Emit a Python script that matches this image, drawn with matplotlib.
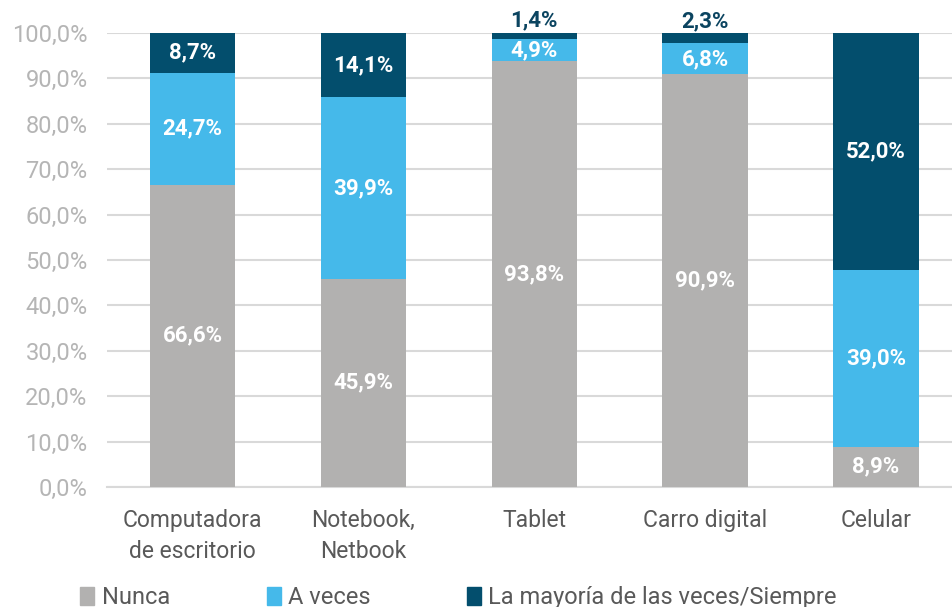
import matplotlib.pyplot as plt
from matplotlib.patches import Patch
from matplotlib.ticker import FuncFormatter

categories = ['Computadora\nde escritorio', 'Notebook,\nNetbook', 'Tablet', 'Carro digital', 'Celular']
nunca = [66.6, 45.9, 93.8, 90.9, 8.9]
a_veces = [24.7, 39.9, 4.9, 6.8, 39.0]
siempre = [8.7, 14.1, 1.4, 2.3, 52.0]
series_names = ['Nunca', 'A veces', 'La mayoría de las veces/Siempre']
colors = ['#b2b1b0', '#45b9ea', '#034e6d']

plt.rcParams['font.family'] = ['Roboto', 'DejaVu Sans']

fig = plt.figure(figsize=(9.52, 6.07), dpi=100)
ax = fig.add_axes([0.1124, 0.1977, 0.8876, 0.7479])

x = list(range(len(categories)))
w = 0.5
bottoms = [0] * len(x)
for vals, col in zip([nunca, a_veces, siempre], colors):
    ax.bar(x, vals, w, bottom=bottoms, color=col, zorder=3)
    for i, v in enumerate(vals):
        txt = f'{v:.1f}%'.replace('.', ',')
        if v < 2.5:
            ax.text(i, bottoms[i] + v + 0.2, txt, ha='center', va='bottom',
                    color='#0b4460', fontsize=16, fontweight='bold', zorder=4)
        else:
            ax.text(i, bottoms[i] + v / 2, txt, ha='center', va='center',
                    color='white', fontsize=16, fontweight='bold', zorder=4)
    bottoms = [b + v for b, v in zip(bottoms, vals)]

ax.set_xlim(-0.5, 4.444)
ax.set_ylim(0, 100)
ax.set_yticks(range(0, 101, 10))
ax.yaxis.set_major_formatter(FuncFormatter(lambda v, p: f'{v:.1f}%'.replace('.', ',')))
ax.set_xticks(x)
ax.set_xticklabels(categories, fontsize=16.5, color='#595959', linespacing=1.45)
ax.tick_params(axis='y', length=0, labelsize=17, labelcolor='#b5b5b5', pad=14)
ax.tick_params(axis='x', length=0, pad=16)
ax.grid(axis='y', color='#d9d9d9', lw=1.5, zorder=0)
for s in ['top', 'right', 'left']:
    ax.spines[s].set_visible(False)
ax.spines['bottom'].set_color('#d9d9d9')
ax.spines['bottom'].set_linewidth(1.5)

handles = [Patch(color=c, label=n) for c, n in zip(colors, series_names)]
fig.legend(handles=handles, loc='lower left', bbox_to_anchor=(0.062, -0.038), ncol=3,
           frameon=False, fontsize=17, handlelength=0.6, handleheight=0.8,
           handletextpad=0.3, columnspacing=4.1, labelcolor='#595959')

fig.savefig('out.png', dpi=100)
